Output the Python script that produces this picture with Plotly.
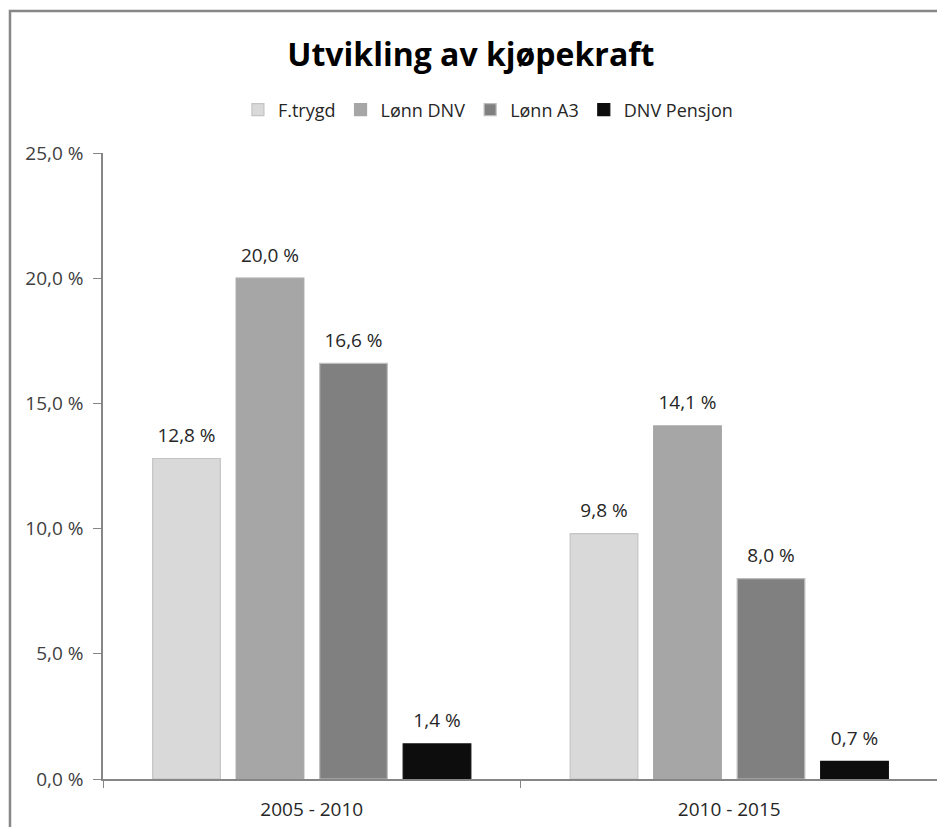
import plotly.graph_objects as go

categories = ["2005 - 2010", "2010 - 2015"]
series_names = ["F.trygd", "Lønn DNV", "Lønn A3", "DNV Pensjon"]
f_trygd = [12.8, 9.8]
lonn_dnv = [20.0, 14.1]
lonn_a3 = [16.6, 8.0]
dnv_pensjon = [1.4, 0.7]
y_tickvals = [0, 5, 10, 15, 20, 25]
y_ticktext = ["0,0 %", "5,0 %", "10,0 %", "15,0 %", "20,0 %", "25,0 %"]

series_values = [f_trygd, lonn_dnv, lonn_a3, dnv_pensjon]
fills = ["#d9d9d9", "#a6a6a6", "#808080", "#0d0d0d"]
edges = ["#c4c4c4", "#a6a6a6", "#bdbdbd", "#0d0d0d"]
LABEL_PAD = 0.3  # extra space (in axis units) between bar top and its label

FONT = "'Open Sans', Lato, sans-serif"

fig = go.Figure()
for i, (name, vals, fc, ec) in enumerate(zip(series_names, series_values, fills, edges)):
    fig.add_trace(go.Bar(
        x=categories, y=vals, name=name, offsetgroup=str(i),
        marker=dict(color=fc, line=dict(color=ec, width=1.2)),
        textposition="none",
    ))
for i, vals in enumerate(series_values):
    fig.add_trace(go.Bar(
        x=categories, y=[LABEL_PAD] * len(vals), base=vals, offsetgroup=str(i),
        marker=dict(color="rgba(0,0,0,0)", line=dict(width=0)),
        text=[f"{v:.1f} %".replace(".", ",") for v in vals],
        textposition="outside", cliponaxis=False, showlegend=False,
        hoverinfo="skip",
        textfont=dict(family=FONT, size=19, color="#262626"),
    ))

fig.update_layout(
    width=937, height=819,
    paper_bgcolor="white", plot_bgcolor="white",
    margin=dict(l=95, r=7, t=145, b=48, autoexpand=False),
    barmode="group", bargap=0.20, bargroupgap=0.19,
    title=dict(text="<b>Utvikling av kjøpekraft</b>", x=0.494, xanchor="center",
               y=0.9426, yanchor="middle",
               font=dict(family=FONT, size=32, color="#000000")),
    legend=dict(orientation="h", x=0.461, xanchor="center", y=1.0687, yanchor="middle",
                font=dict(family=FONT, size=18, color="#262626"),
                traceorder="normal", itemwidth=30),
    font=dict(family=FONT, color="#404040"),
    showlegend=True,
)
fig.update_yaxes(range=[0, 25], tickvals=y_tickvals, ticktext=y_ticktext,
                 showgrid=False, zeroline=False, showline=True, linecolor="#868686",
                 linewidth=1.5, ticks="outside", ticklen=8, tickcolor="#868686",
                 ticklabelstandoff=6, automargin=False,
                 tickfont=dict(family=FONT, size=19, color="#404040"))
fig.update_xaxes(showgrid=False, showline=True, linecolor="#868686", linewidth=1.5,
                 ticks="outside", tickson="boundaries", ticklen=7, tickcolor="#868686",
                 ticklabelstandoff=12, automargin=False,
                 tickfont=dict(family=FONT, size=19, color="#262626"))
fig.add_shape(type="rect", xref="paper", yref="paper",
              x0=-0.1114, x1=1.2, y0=-0.3, y1=1.2268,
              line=dict(color="#878787", width=2.5), fillcolor="rgba(0,0,0,0)",
              layer="above")
fig.write_html("out.html")
